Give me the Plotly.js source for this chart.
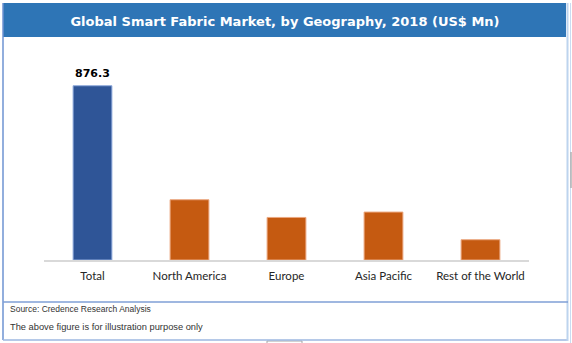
<!DOCTYPE html>
<html>
<head>
<meta charset="utf-8">
<script src="https://cdn.plot.ly/plotly-3.0.1.min.js"></script>
<style>html,body{margin:0;padding:0;background:#fff;}#chart{width:572px;height:343px;}</style>
</head>
<body>
<div id="chart"></div>
<script>
const categories = ["Total", "North America", "Europe", "Asia Pacific", "Rest of the World"];
const values = [876.3, 303, 214, 241, 102];
const barColors = ["#2F5597", "#C55A11", "#C55A11", "#C55A11", "#C55A11"];
const edgeColors = ["#8FAADC", "#EBA77F", "#EBA77F", "#EBA77F", "#EBA77F"];
const labelText = values.map((v, i) => i === 0 ? v.toFixed(1) : "");

const W = 572, H = 343;
const L = 44, R = 529, T = 50, B = 260;
const px = x => (x - L) / (R - L);
const py = y => (B - y) / (B - T);

const trace = {
  type: "bar",
  x: categories,
  y: values,
  width: 0.4,
  marker: {color: barColors, line: {color: edgeColors, width: 1}},
  hoverinfo: "skip"
};

const rect = (x0, y0, x1, y1, fill, line, lw) => ({
  type: "rect", xref: "paper", yref: "paper", layer: "below",
  x0: px(x0), x1: px(x1), y0: py(y1), y1: py(y0),
  fillcolor: fill, line: {color: line || "rgba(0,0,0,0)", width: lw || 0}
});
const hline = (x0, x1, y, color, w) => ({
  type: "line", xref: "paper", yref: "paper",
  x0: px(x0), x1: px(x1), y0: py(y), y1: py(y), line: {color: color, width: w}
});
const vline = (x, y0, y1, color, w) => ({
  type: "line", xref: "paper", yref: "paper",
  x0: px(x), x1: px(x), y0: py(y0), y1: py(y1), line: {color: color, width: w}
});

const layout = {
  width: W, height: H,
  margin: {l: L, r: W - R, t: T, b: H - B, pad: 0},
  paper_bgcolor: "#ffffff", plot_bgcolor: "rgba(0,0,0,0)",
  showlegend: false,
  bargap: 0.6,
  title: {
    text: "Global Smart Fabric Market, by Geography, 2018 (US$ Mn)",
    xref: "container", yref: "container",
    x: 285 / W, y: 1 - 21 / H, xanchor: "center", yanchor: "middle",
    font: {family: "DejaVu Sans", size: 13, color: "#ffffff", weight: "bold"}
  },
  xaxis: {
    showgrid: false, zeroline: false, showline: true, linecolor: "#D9D9D9", linewidth: 2,
    ticks: "", ticklabelstandoff: 4, tickfont: {family: "Lato", size: 11.5, color: "#262626"},
    fixedrange: true
  },
  yaxis: {
    range: [0, 1056], visible: false, showgrid: false, zeroline: false, fixedrange: true
  },
  shapes: [
    rect(3, 3, 566, 37, "#2E75B6"),
    vline(3, 3, 340, "#6E93D2", 1.5),
    hline(3, 568, 340, "#9DB7E0", 1.5),
    vline(567.5, 3, 341, "#BDD4EE", 2),
    vline(570.5, 3, 343, "#C9DCF2", 1),
    hline(3, 568, 302, "#7F9FD6", 1.5),
    rect(267, 341, 302, 345, "#ffffff", "#A6A6A6", 1),
    vline(571, 152, 188, "#B0B0B0", 1.5)
  ],
  annotations: [
    {x: categories[0], y: values[0], xref: "x", yref: "y", text: labelText[0],
     showarrow: false, yanchor: "bottom", yshift: 4,
     font: {family: "DejaVu Sans", size: 11, color: "#000000", weight: "bold"}},
    {xref: "paper", yref: "paper", x: px(8), y: py(309), xanchor: "left", yanchor: "middle",
     text: "Source: Credence Research Analysis", showarrow: false,
     font: {family: "Liberation Sans", size: 8.5, color: "#333333"}},
    {xref: "paper", yref: "paper", x: px(8), y: py(327), xanchor: "left", yanchor: "middle",
     text: "The above figure is for illustration purpose only", showarrow: false,
     font: {family: "Liberation Sans", size: 9.3, color: "#333333"}}
  ]
};

Plotly.newPlot("chart", [trace], layout, {displayModeBar: false, staticPlot: true});
</script>
</body>
</html>
